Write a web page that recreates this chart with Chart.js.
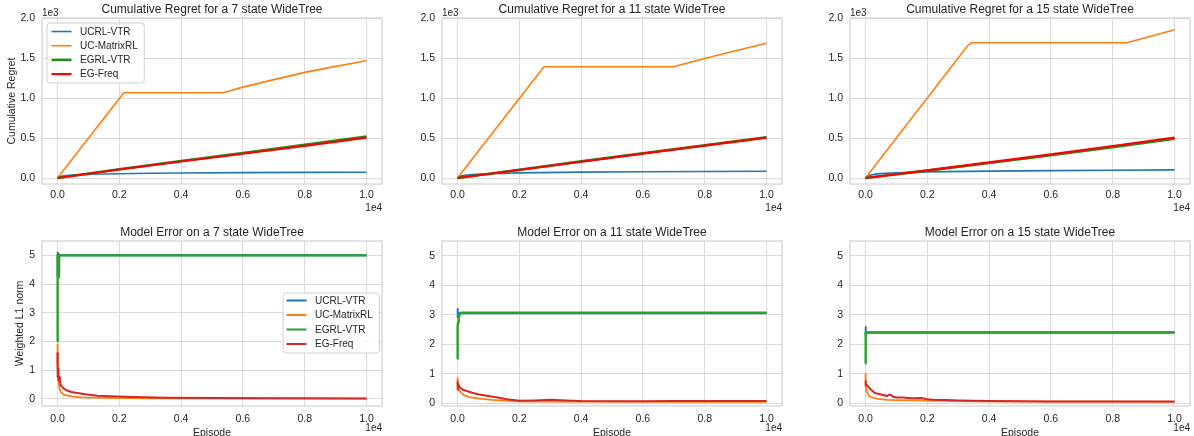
<!DOCTYPE html>
<html><head><meta charset="utf-8">
<script src="https://cdn.jsdelivr.net/npm/chart.js@4/dist/chart.umd.min.js"></script>
<style>
html,body{margin:0;padding:0;background:#fff;width:1194px;height:436px;overflow:hidden;position:relative}
canvas{position:absolute}
</style></head><body>
<canvas id="r7"></canvas><canvas id="r11"></canvas><canvas id="r15"></canvas>
<canvas id="e7"></canvas><canvas id="e11"></canvas><canvas id="e15"></canvas>
<script>
// ---------- data ----------
const seriesNames = ['UCRL-VTR', 'UC-MatrixRL', 'EGRL-VTR', 'EG-Freq'];
const episodeTicks = [0, 2000, 4000, 6000, 8000, 10000];
const regretTicks = [0, 500, 1000, 1500, 2000];
const errorTicks = [0, 1, 2, 3, 4, 5];

// Cumulative regret, 7 state WideTree  [episode, regret]
const regret7_ucrl   = [[0,0],[100,22],[300,32],[600,40],[1000,46],[2000,54],[3000,59],[4000,63],[6000,67],[8000,70],[10000,72]];
const regret7_matrix = [[0,0],[2150,1065],[5350,1065],[6000,1136],[7000,1230],[8000,1320],[9000,1395],[10000,1466]];
const regret7_egrl   = [[0,0],[2000,110],[4000,212],[6000,312],[8000,415],[10000,518]];
const regret7_egfreq = [[0,0],[2000,106],[4000,206],[6000,303],[8000,402],[10000,505]];

// Cumulative regret, 11 state WideTree
const regret11_ucrl   = [[0,0],[100,25],[300,38],[600,47],[1000,54],[2000,64],[4000,73],[6000,78],[8000,82],[10000,85]];
const regret11_matrix = [[0,0],[2800,1390],[6980,1390],[8000,1495],[9000,1590],[10000,1685]];
const regret11_egrl   = [[0,0],[2000,104],[4000,208],[6000,310],[8000,410],[10000,510]];
const regret11_egfreq = [[0,0],[2000,100],[4000,203],[6000,305],[8000,405],[10000,505]];

// Cumulative regret, 15 state WideTree
const regret15_ucrl   = [[0,0],[100,30],[300,48],[600,58],[1000,66],[2000,76],[4000,86],[6000,92],[8000,97],[10000,101]];
const regret15_matrix = [[0,0],[3300,1650],[3420,1690],[8460,1690],[10000,1853]];
const regret15_egrl   = [[0,0],[2000,92],[4000,188],[6000,285],[8000,385],[10000,490]];
const regret15_egfreq = [[0,0],[2000,95],[4000,195],[6000,296],[8000,400],[10000,505]];

// Model error (weighted L1 norm), 7 state WideTree
const error7_ucrl   = [[0,4.3],[4,5.1],[12,4.95],[25,5.05],[45,5.0],[10000,5.0]];
const error7_matrix = [[0,1.9],[4,1.5],[10,1.15],[20,0.78],[40,0.55],[70,0.35],[120,0.22],[200,0.15],[300,0.12],[500,0.08],[800,0.05],[1500,0.03],[3000,0.015],[10000,0.005]];
const error7_egrl   = [[0,2.0],[3,4.1],[8,5.0],[40,5.0],[48,4.25],[56,5.0],[10000,5.0]];
const error7_egfreq = [[0,1.6],[3,1.2],[6,0.75],[10,1.15],[15,0.8],[20,1.05],[28,0.7],[35,0.9],[45,0.65],[60,0.75],[80,0.6],[100,0.5],[130,0.44],[180,0.38],[290,0.3],[450,0.24],[600,0.21],[900,0.16],[1300,0.11],[1900,0.08],[2500,0.06],[3500,0.04],[5000,0.03],[7000,0.02],[10000,0.015]];

// Model error, 11 state WideTree
const error11_ucrl   = [[0,2.9],[3,3.2],[8,2.95],[15,3.1],[30,3.05],[10000,3.05]];
const error11_matrix = [[0,0.85],[5,0.7],[10,0.55],[30,0.5],[60,0.43],[120,0.35],[200,0.28],[350,0.22],[500,0.19],[800,0.15],[1100,0.12],[1500,0.09],[2000,0.07],[3000,0.06],[5000,0.055],[7000,0.05],[10000,0.05]];
const error11_egrl   = [[0,1.5],[3,2.4],[8,2.6],[20,2.75],[40,2.9],[70,3.0],[110,3.07],[10000,3.07]];
const error11_egfreq = [[0,0.45],[4,0.6],[8,0.72],[15,0.6],[30,0.65],[60,0.55],[100,0.52],[200,0.45],[350,0.4],[500,0.35],[700,0.3],[1000,0.25],[1300,0.2],[1600,0.14],[2000,0.09],[2500,0.1],[3000,0.12],[3500,0.1],[4000,0.08],[5000,0.07],[6000,0.07],[7000,0.08],[8500,0.08],[10000,0.08]];

// Model error, 15 state WideTree
const error15_ucrl   = [[0,2.3],[3,2.58],[8,2.45],[15,2.4],[10000,2.4]];
const error15_matrix = [[0,1.0],[5,0.8],[10,0.6],[25,0.45],[60,0.35],[120,0.25],[200,0.2],[400,0.15],[700,0.12],[1000,0.11],[1500,0.1],[2000,0.09],[3000,0.08],[4000,0.07],[6000,0.06],[8000,0.055],[10000,0.05]];
const error15_egrl   = [[0,1.35],[3,2.0],[6,2.35],[12,2.4],[10000,2.4]];
const error15_egfreq = [[0,0.6],[4,0.75],[8,0.6],[15,0.7],[30,0.62],[60,0.6],[100,0.55],[150,0.5],[200,0.44],[300,0.35],[500,0.3],[700,0.25],[800,0.3],[900,0.22],[1000,0.2],[1200,0.2],[1500,0.17],[1800,0.18],[2000,0.14],[2200,0.12],[2600,0.11],[3000,0.1],[4000,0.08],[5000,0.07],[6000,0.06],[8000,0.06],[10000,0.06]];

// ---------- styling ----------
const FONT = "'Liberation Sans', Arial, sans-serif";
const TXT = '#262626';
const GRID = '#dcdcdc';
const topColors = ['#1f77b4', '#ff7f0e', '#1e8f1e', '#ff0000'];
const topWidths = [1.6, 1.6, 2.6, 2.2];
const botColors = ['#1f77b4', '#ff7f0e', '#2ca02c', '#d62728'];
const botWidths = [2, 1.8, 2.4, 2];

function drawLegend(ctx, lg, colors, widths) {
  ctx.save();
  ctx.font = '10px ' + FONT;
  let maxW = 0;
  seriesNames.forEach(n => { maxW = Math.max(maxW, ctx.measureText(n).width); });
  const bw = (lg.textX - lg.x) + maxW + 6;
  const bh = lg.h;
  ctx.beginPath();
  ctx.roundRect(lg.x + 0.5, lg.y + 0.5, bw, bh, 3);
  ctx.fillStyle = 'rgba(255,255,255,0.85)';
  ctx.fill();
  ctx.strokeStyle = '#d0d0d0';
  ctx.lineWidth = 1;
  ctx.stroke();
  seriesNames.forEach((n, i) => {
    const y = lg.y + lg.first + i * lg.step;
    ctx.beginPath();
    ctx.moveTo(lg.lineX0, y); ctx.lineTo(lg.lineX1, y);
    ctx.strokeStyle = colors[i]; ctx.lineWidth = lg.lw ? lg.lw[i] : widths[i];
    ctx.stroke();
    ctx.fillStyle = TXT; ctx.textAlign = 'left'; ctx.textBaseline = 'middle';
    ctx.fillText(n, lg.textX, y + 0.5);
  });
  ctx.restore();
}

function makePanel(p) {
  const cv = document.getElementById(p.id);
  cv.width = p.w; cv.height = p.h;
  cv.style.left = p.left + 'px'; cv.style.top = p.top + 'px';
  cv.style.width = p.w + 'px'; cv.style.height = p.h + 'px';

  const decor = {
    id: 'decor',
    afterDraw(chart) {
      const ctx = chart.ctx; const a = chart.chartArea;
      ctx.save();
      // frame
      ctx.strokeStyle = '#d2d2d2'; ctx.lineWidth = 1.2;
      ctx.strokeRect(a.left, a.top, a.right - a.left, a.bottom - a.top);
      ctx.fillStyle = TXT;
      // title
      ctx.font = '12px ' + FONT; ctx.textAlign = 'center'; ctx.textBaseline = 'middle';
      ctx.fillText(p.title, (a.left + a.right) / 2, a.top - 8.5);
      ctx.font = '10px ' + FONT;
      // x offset text
      ctx.textAlign = 'right'; ctx.textBaseline = 'middle';
      ctx.fillText('1e4', a.right, a.bottom + p.offX);
      // y offset text
      if (p.offY) { ctx.textAlign = 'left'; ctx.fillText(p.offY, a.left, a.top - 5); }
      // x axis label
      if (p.xlabel) { ctx.font = '10.5px ' + FONT; ctx.textAlign = 'center'; ctx.textBaseline = 'alphabetic'; ctx.fillText(p.xlabel, (a.left + a.right) / 2, p.h); }
      // y axis label
      if (p.ylabel) {
        ctx.font = '10.5px ' + FONT;
        ctx.save(); ctx.translate(p.ylabelX, (a.top + a.bottom) / 2); ctx.rotate(-Math.PI / 2);
        ctx.textAlign = 'center'; ctx.textBaseline = 'middle'; ctx.fillText(p.ylabel, 0, 0);
        ctx.restore();
      }
      ctx.restore();
      if (p.legend) drawLegend(ctx, p.legend, p.colors, p.widths);
    }
  };

  new Chart(cv, {
    type: 'scatter',
    data: {
      datasets: p.series.map((s, i) => ({
        label: seriesNames[i],
        data: s.map(pt => ({ x: pt[0], y: pt[1] })),
        showLine: true, borderColor: p.colors[i], backgroundColor: p.colors[i],
        borderWidth: p.widths[i], pointRadius: 0, pointHoverRadius: 0, tension: 0,
        borderJoinStyle: 'round', borderCapStyle: 'butt', order: 4 - i
      }))
    },
    options: {
      responsive: false, animation: false, events: [],
      layout: { padding: { left: 0, top: p.ft, right: p.w - p.fr, bottom: 0 } },
      plugins: { legend: { display: false }, tooltip: { enabled: false }, title: { display: false } },
      scales: {
        x: {
          type: 'linear', min: -500, max: 10500,
          afterBuildTicks: s => { s.ticks = episodeTicks.map(v => ({ value: v })); },
          afterFit: s => { s.height = p.h - p.fb; },
          grid: { color: GRID, lineWidth: 1, drawTicks: false },
          border: { display: false },
          ticks: { padding: p.xpad, color: TXT, font: { family: FONT, size: 10.5 }, maxRotation: 0, autoSkip: false,
                   callback: v => (v / 10000).toFixed(1) }
        },
        y: {
          type: 'linear', min: p.ymin, max: p.ymax,
          afterBuildTicks: s => { s.ticks = p.yticks.map(v => ({ value: v })); },
          afterFit: s => { s.width = p.fl; },
          grid: { color: GRID, lineWidth: 1, drawTicks: false },
          border: { display: false },
          ticks: { padding: 7, color: TXT, font: { family: FONT, size: 10.5 }, autoSkip: false, callback: p.yfmt }
        }
      }
    },
    plugins: [decor]
  });
}

const regretFmt = v => (v / 1000).toFixed(1);
const errorFmt = v => String(v);
const topLegend = { x: 46.5, y: 22.5, h: 60, first: 9, step: 14.2, lineX0: 51.5, lineX1: 71.5, textX: 80, lw: [1.6, 1.6, 2.6, 2.2] };
const botLegend = { x: 282.5, y: 74.5, h: 60, first: 8, step: 14.5, lineX0: 286.5, lineX1: 306.5, textX: 315, lw: [2, 2, 2, 2] };

const topBase = { top: 0, h: 218, ft: 18, fb: 184, ymin: -75, ymax: 2000, yticks: regretTicks, yfmt: regretFmt,
                  colors: topColors, widths: topWidths, offY: '1e3', offX: 24, xpad: 5 };
const botBase = { top: 218, h: 218, ft: 23, fb: 188, ymax: 5.5, yticks: errorTicks, yfmt: errorFmt,
                  colors: botColors, widths: botWidths, offX: 22, xpad: 7, xlabel: 'Episode' };

makePanel(Object.assign({}, topBase, { id: 'r7', left: 0, w: 397, fl: 42, fr: 382,
  title: 'Cumulative Regret for a 7 state WideTree', ylabel: 'Cumulative Regret', ylabelX: 12.5, legend: topLegend,
  series: [regret7_ucrl, regret7_matrix, regret7_egrl, regret7_egfreq] }));
makePanel(Object.assign({}, topBase, { id: 'r11', left: 400, w: 397, fl: 42, fr: 382,
  title: 'Cumulative Regret for a 11 state WideTree',
  series: [regret11_ucrl, regret11_matrix, regret11_egrl, regret11_egfreq] }));
makePanel(Object.assign({}, topBase, { id: 'r15', left: 797, w: 397, fl: 53, fr: 393,
  title: 'Cumulative Regret for a 15 state WideTree',
  series: [regret15_ucrl, regret15_matrix, regret15_egrl, regret15_egfreq] }));

makePanel(Object.assign({}, botBase, { id: 'e7', left: 0, w: 397, fl: 42, fr: 382, ymin: -0.25,
  title: 'Model Error on a 7 state WideTree', ylabel: 'Weighted L1 norm', ylabelX: 20, legend: botLegend,
  series: [error7_ucrl, error7_matrix, error7_egrl, error7_egfreq] }));
makePanel(Object.assign({}, botBase, { id: 'e11', left: 400, w: 397, fl: 42, fr: 382, ymin: -0.09,
  title: 'Model Error on a 11 state WideTree',
  series: [error11_ucrl, error11_matrix, error11_egrl, error11_egfreq] }));
makePanel(Object.assign({}, botBase, { id: 'e15', left: 797, w: 397, fl: 53, fr: 393, ymin: -0.09,
  title: 'Model Error on a 15 state WideTree',
  series: [error15_ucrl, error15_matrix, error15_egrl, error15_egfreq] }));
</script>
</body></html>
